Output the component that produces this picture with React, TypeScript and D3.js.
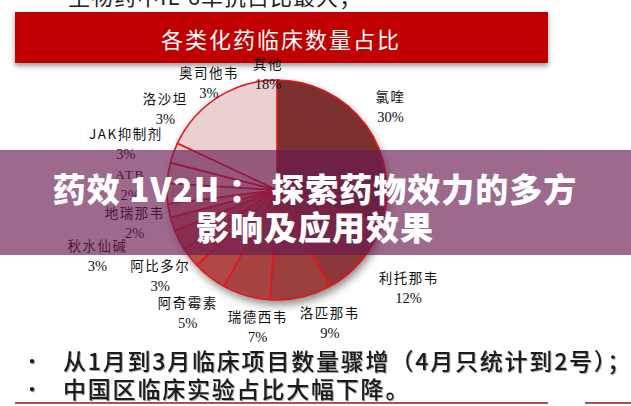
import React from "react";
import * as d3 from "d3";

const W = 631;
const H = 406;

// ---- data ----
const drugs = ["氯喹", "利托那韦", "洛匹那韦", "瑞德西韦", "阿奇霉素", "阿比多尔", "秋水仙碱", "地瑞那韦", "ATB", "JAK抑制剂", "洛沙坦", "奥司他韦", "其他"];
const shares = [30, 12, 9, 7, 5, 3, 3, 2, 2, 3, 3, 3, 18];

const chartTitle = "各类化药临床数量占比";
const topLine = "生物药中IL-6单抗占比最大；";
const bullets = ["从1月到3月临床项目数量骤增（4月只统计到2号）；", "中国区临床实验占比大幅下降。"];
const bannerLines = ["药效 1V2H ： 探索药物效力的多方", "影响及应用效果"];

// ---- style / layout ----
const sliceColors = ["#7d3030", "#8c3838", "#9a3e3e", "#a64444", "#b04848", "#b84c4b", "#c05452", "#c9706c", "#d68e8c", "#e0b4b4", "#e6c3c3", "#e8c9c9", "#ebd0d0"];
// label centre placement in polar form (degrees clockwise from 12 o'clock, radius px)
const labelPolar: [number, number][] = [
  [53.6, 141], [126.6, 164], [158.3, 143], [188, 138], [216, 152], [233.7, 145],
  [250, 191], [257, 146], [272, 147], [287, 158], [306, 138], [327.6, 127], [355.6, 117],
];

const cx = 277;
const cy = 190;
const R = 110;

export default function App() {
  const pie = d3.pie<number>().sort(null).value((d) => d)(shares);
  const arc = d3.arc<d3.PieArcDatum<number>>().innerRadius(0).outerRadius(R);
  const total = d3.sum(shares);

  const cjk = "'Noto Sans CJK SC', sans-serif";
  const serif = "'Liberation Serif', 'DejaVu Serif', serif";

  return (
    <svg width={W} height={H} viewBox={`0 0 ${W} ${H}`} style={{ position: "absolute", left: 0, top: 0, background: "#fff" }}>
      <defs>
        <filter id="pieShadow" x="-30%" y="-30%" width="160%" height="160%">
          <feDropShadow dx="2" dy="5" stdDeviation="4" floodColor="#000" floodOpacity="0.45" />
        </filter>
        <filter id="boxShadow" x="-5%" y="-30%" width="110%" height="170%">
          <feDropShadow dx="0" dy="3" stdDeviation="2.5" floodColor="#000" floodOpacity="0.4" />
        </filter>
        <filter id="txtShadow" x="-5%" y="-30%" width="110%" height="160%">
          <feDropShadow dx="1" dy="1" stdDeviation="0.6" floodColor="#000" floodOpacity="0.35" />
        </filter>
      </defs>

      {/* cut-off text at top */}
      <text x={68} y={5} fontFamily={cjk} fontSize={22} fill="#222" letterSpacing={1}>{topLine}</text>

      {/* red title box */}
      <rect x={15} y={12} width={533} height={51} fill="#c00000" filter="url(#boxShadow)" />
      <text x={281} y={38} textAnchor="middle" dominantBaseline="central" fontFamily={cjk} fontSize={22} fill="#fff" letterSpacing={2}>{chartTitle}</text>

      {/* pie */}
      <g transform={`translate(${cx},${cy})`}>
        <circle r={R} fill="#fff" filter="url(#pieShadow)" />
        {pie.map((d, i) => (
          <path key={i} d={arc(d) || ""} fill={sliceColors[i]} stroke="#e8141c" strokeWidth={1.6} strokeLinejoin="round" />
        ))}
        {pie.map((d, i) => {
          const [deg, r] = labelPolar[i];
          const [x, y] = d3.pointRadial((deg * Math.PI) / 180, r);
          const pct = d3.format(".0%")(d.value / total);
          return (
            <g key={"l" + i} transform={`translate(${x},${y})`}>
              <text y={-10.5} textAnchor="middle" dominantBaseline="central" fontFamily={drugs[i] === "ATB" ? serif : cjk} fontSize={13.5} fill="#111" letterSpacing={1.5}>{drugs[i]}</text>
              <text y={10.5} textAnchor="middle" dominantBaseline="central" fontFamily={serif} fontSize={14.5} fill="#111">{pct}</text>
            </g>
          );
        })}
      </g>

      {/* overlay banner */}
      <rect x={0} y={150} width={W} height={105} fill="rgb(104,26,80)" fillOpacity={0.65} />
      {bannerLines.map((t, i) => (
        <text key={t} x={315} y={188 + i * 38} textAnchor="middle" dominantBaseline="central" fontFamily={cjk} fontWeight={900} fontSize={33} letterSpacing={1} fill="#fff">{t}</text>
      ))}

      {/* bullets */}
      {bullets.map((t, i) => (
        <g key={t} filter="url(#txtShadow)">
          <text x={22} y={360 + i * 28} dominantBaseline="central" fontFamily={cjk} fontSize={20} fill="#1a1a1a">•</text>
          <text x={63} y={360 + i * 28} dominantBaseline="central" fontFamily={cjk} fontWeight={500} fontSize={23} fill="#1a1a1a" letterSpacing={1.8}>{t}</text>
        </g>
      ))}

      {/* bottom rule */}
      <line x1={15} x2={548} y1={403} y2={403} stroke="#8b1a1a" strokeWidth={1.5} />
      <line x1={585} x2={631} y1={403} y2={403} stroke="#8b1a1a" strokeWidth={1.5} />
    </svg>
  );
}
